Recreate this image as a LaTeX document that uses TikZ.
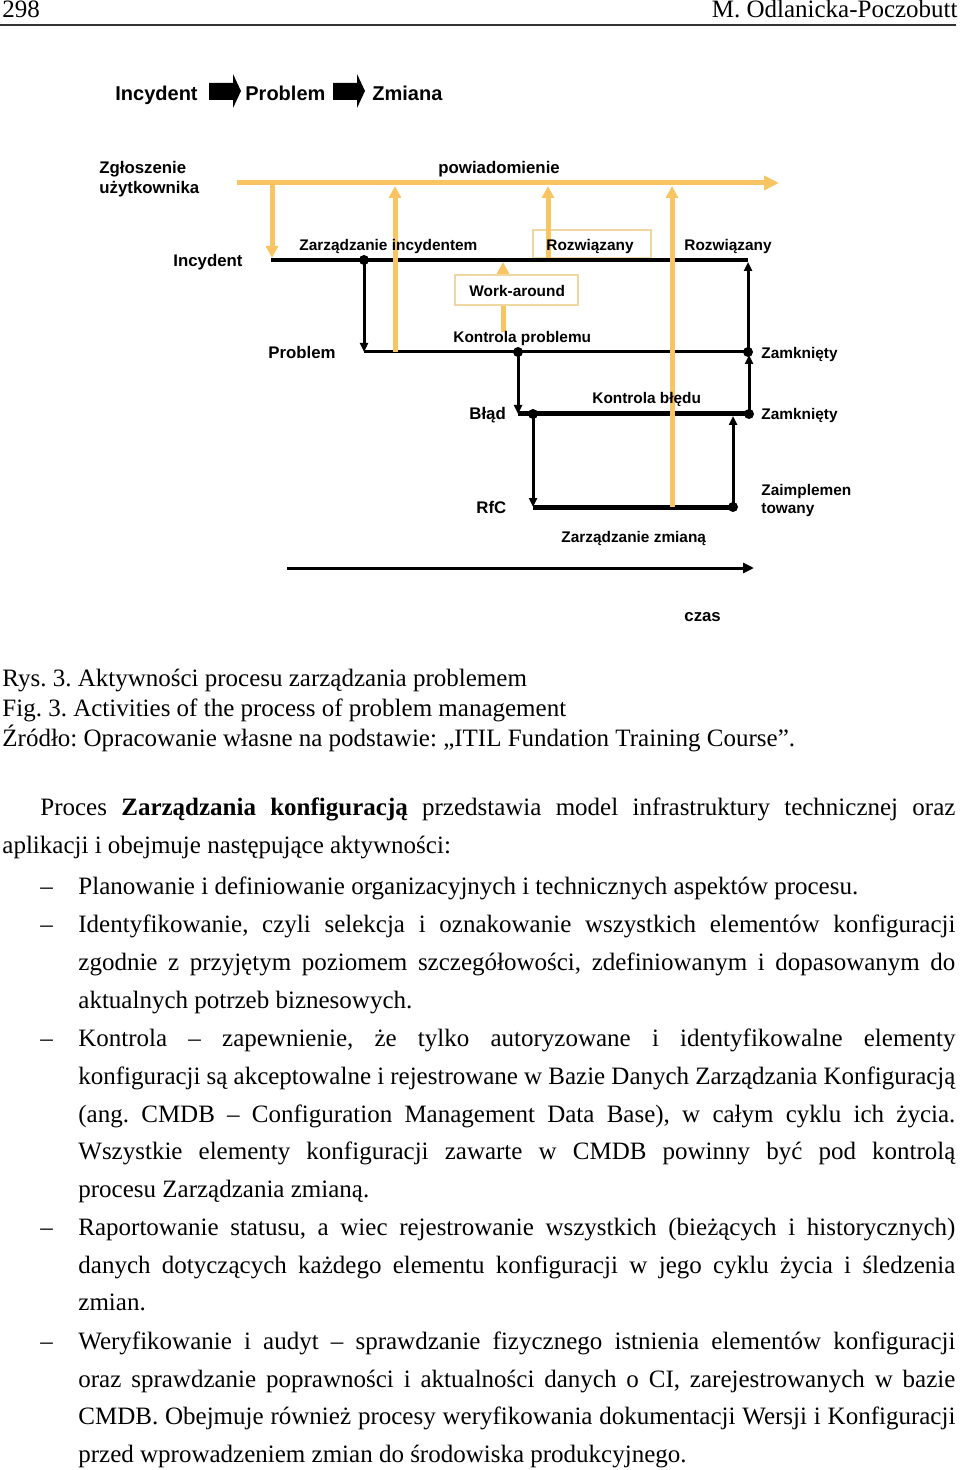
\documentclass[tikz,border=0pt]{standalone}
\usepackage{fontspec}
\setmainfont{Liberation Serif}
\newfontfamily\labfont{Liberation Sans}
\usetikzlibrary{arrows.meta}
\frenchspacing

\definecolor{notify}{RGB}{249,196,98}
\definecolor{boxline}{RGB}{240,214,160}

\tikzset{
  lab/.style={inner sep=0pt, anchor=base west, font=\labfont\bfseries\fontsize{7.7}{9}\selectfont},
  biglab/.style={lab, font=\labfont\bfseries\fontsize{8.4}{10}\selectfont},
  toplab/.style={lab, font=\labfont\bfseries\fontsize{10}{12}\selectfont},
  flowline/.style={line width=2pt},
  flowarrow/.style={line width=1.5pt, -{Triangle[width=4pt,length=4.5pt]}},
  notice/.style={notify, line width=2.5pt, -{Triangle[width=6pt,length=6pt]}},
  statebox/.style={draw=boxline, line width=0.6pt},
  junction/.style={circle, fill, inner sep=0pt, minimum size=5pt},
  textline/.style={inner sep=0pt, anchor=base west, font=\fontsize{12.5}{15}\selectfont},
}

\newcommand{\fullline}[2]{\makebox[#1][s]{#2}}

\begin{document}
\begin{tikzpicture}[x=0.5pt, y=-0.5pt]
    \useasboundingbox (0,0) rectangle (960,1470);

    % Page header
    \node[textline] (page) at (2,18) {298};
    \node[textline, anchor=base east] (author) at (958,18) {M. Odlanicka-Poczobutt};
    \draw[black!80, line width=0.75pt] (0,25) -- (956,25);

    % Top row: incident -> problem -> change
    \node[toplab] (topinc) at (115,101) {Incydent};
    \node[toplab] (topprob) at (245,101) {Problem};
    \node[toplab] (topchg) at (372,101) {Zmiana};
    \foreach \x in {209,333}
        \fill (\x,83) -- ++(24,0) -- ++(0,-9) -- ++(8,17) -- ++(-8,17) -- ++(0,-8) -- ++(-24,0) -- cycle;

    % Points of the process lines
    \coordinate (incS) at (271,260);
    \coordinate (incE) at (748,260);
    \coordinate (probS) at (364,352);
    \coordinate (probE) at (748,352);
    \coordinate (errS) at (518,414);
    \coordinate (errE) at (749,414);
    \coordinate (rfcS) at (533,507);
    \coordinate (rfcE) at (733,507);

    % Boxes for the states
    \draw[statebox] (533,258) rectangle (651,230);

    % Black process lines
    \draw[flowline] (incS) -- (incE);
    \draw[line width=1.5pt] (probS) -- (probE);
    \draw[line width=2.5pt] (errS) -- (errE);
    \draw[line width=2.5pt] (rfcS) -- (rfcE);

    \node[junction] (d1) at (364,260) {};
    \node[junction] (d2) at (518,352) {};
    \node[junction] (d3) at (533,414) {};
    \node[junction] (d4) at (748,352) {};
    \node[junction] (d5) at (749,414) {};
    \node[junction] (d6) at (733,507) {};

    \draw[flowarrow] (d1.center) -- (probS);
    \draw[flowarrow] (d2.center) -- (errS);
    \draw[flowarrow] (d3.center) -- (rfcS);
    \draw[flowarrow] (d6.center) -- (733,416) coordinate (up1);
    \draw[flowarrow] (d5.center) -- (749,355) coordinate (up2);
    \draw[flowarrow] (d4.center) -- (748,262) coordinate (up3);

    % Time axis
    \coordinate (t0) at (287,568);
    \coordinate (t1) at (754,568);
    \draw[line width=1.5pt, -{Triangle[width=5pt,length=5.5pt]}] (t0) -- (t1);

    % Orange notification lines
    \coordinate (n0) at (237,183);
    \coordinate (n1) at (779,183);
    \draw[notify, line width=2.5pt, -{Triangle[width=7pt,length=7.5pt]}] (n0) -- (n1);
    \draw[notice] (272,183) -- (272,258);
    \draw[notice] (395,352) -- (395,186);
    \draw[notice] (548,258) -- (548,186);
    \draw[notice] (672,507) -- (672,186);
    \draw[notice] (503,332) -- (503,262);
    \draw[statebox, fill=white] (455,275) rectangle (578,305);

    % Labels (multi-line nodes sit on their last line)
    \node[biglab, align=left] (user) at (99,194) {Zgłoszenie\\użytkownika};
    \node[biglab] (notif) at (438,174) {powiadomienie};
    \node[biglab] (inc) at (173,267) {Incydent};
    \node[lab] (incmgmt) at (299,250.5) {Zarządzanie incydentem};
    \node[lab] (solved1) at (546,250.5) {Rozwiązany};
    \node[lab] (solved2) at (684,250.5) {Rozwiązany};
    \node[lab] (work) at (469,296.5) {Work-around};
    \node[lab] (probctl) at (453,342.5) {Kontrola problemu};
    \node[biglab] (prob) at (268,359) {Problem};
    \node[lab] (closed1) at (761,358.5) {Zamknięty};
    \node[lab] (errctl) at (592,403.5) {Kontrola błędu};
    \node[biglab] (err) at (469,420) {Błąd};
    \node[lab] (closed2) at (761,419.5) {Zamknięty};
    \node[biglab] (rfc) at (476,513) {RfC};
    \node[lab, align=left] (impl) at (761,513.5) {Zaimplemen\\towany};
    \node[lab] (chgmgmt) at (561,542.5) {Zarządzanie zmianą};
    \node[biglab] (time) at (684,621) {czas};

    % Caption
    \node[textline] (cap1) at (2,686) {Rys. 3. Aktywności procesu zarządzania problemem};
    \node[textline] (cap2) at (2,716) {Fig. 3. Activities of the process of problem management};
    \node[textline] (cap3) at (2,746) {Źródło: Opracowanie własne na podstawie: „ITIL Fundation Training Course”.};

    % Body text
    \node[textline] (l1) at (40,815) {\fullline{457.5pt}{Proces \textbf{Zarządzania konfiguracją} przedstawia model infrastruktury technicznej oraz}};
    \node[textline] (l2) at (2,853) {aplikacji i obejmuje następujące aktywności:};
    \foreach \y in {894,932,1046,1235,1349}
        \node[textline] at (40,\y) {–};
    \node[textline] (l3) at (78,894) {Planowanie i definiowanie organizacyjnych i technicznych aspektów procesu.};
    \node[textline] (l4) at (78,932) {\fullline{438.5pt}{Identyfikowanie, czyli selekcja i oznakowanie wszystkich elementów konfiguracji}};
    \node[textline] (l5) at (78,970) {\fullline{438.5pt}{zgodnie z przyjętym poziomem szczegółowości, zdefiniowanym i dopasowanym do}};
    \node[textline] (l6) at (78,1008) {aktualnych potrzeb biznesowych.};
    \node[textline] (l7) at (78,1046) {\fullline{438.5pt}{Kontrola – zapewnienie, że tylko autoryzowane i identyfikowalne elementy}};
    \node[textline] (l8) at (78,1084) {\fullline{438.5pt}{konfiguracji są akceptowalne i rejestrowane w Bazie Danych Zarządzania Konfiguracją}};
    \node[textline] (l9) at (78,1122) {\fullline{438.5pt}{(ang. CMDB – Configuration Management Data Base), w całym cyklu ich życia.}};
    \node[textline] (l10) at (78,1159) {\fullline{438.5pt}{Wszystkie elementy konfiguracji zawarte w CMDB powinny być pod kontrolą}};
    \node[textline] (l11) at (78,1197) {procesu Zarządzania zmianą.};
    \node[textline] (l12) at (78,1235) {\fullline{438.5pt}{Raportowanie statusu, a wiec rejestrowanie wszystkich (bieżących i historycznych)}};
    \node[textline] (l13) at (78,1273) {\fullline{438.5pt}{danych dotyczących każdego elementu konfiguracji w jego cyklu życia i śledzenia}};
    \node[textline] (l14) at (78,1310) {zmian.};
    \node[textline] (l15) at (78,1349) {\fullline{438.5pt}{Weryfikowanie i audyt – sprawdzanie fizycznego istnienia elementów konfiguracji}};
    \node[textline] (l16) at (78,1387) {\fullline{438.5pt}{oraz sprawdzanie poprawności i aktualności danych o CI, zarejestrowanych w bazie}};
    \node[textline] (l17) at (78,1424) {\fullline{438.5pt}{CMDB. Obejmuje również procesy weryfikowania dokumentacji Wersji i Konfiguracji}};
    \node[textline] (l18) at (78,1462) {przed wprowadzeniem zmian do środowiska produkcyjnego.};
\end{tikzpicture}
\end{document}
